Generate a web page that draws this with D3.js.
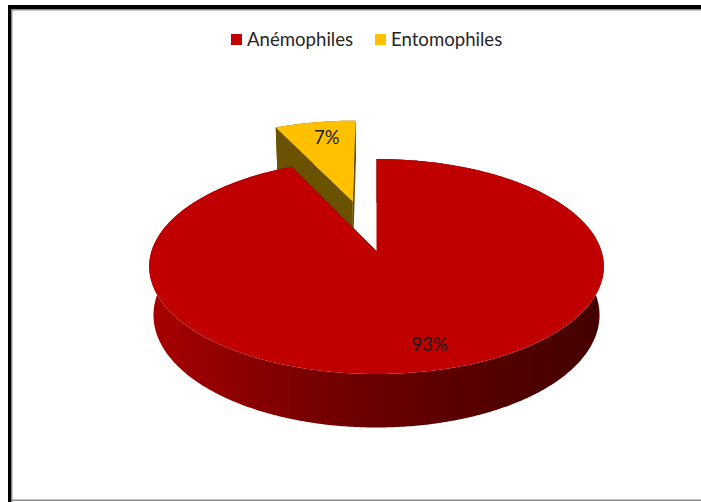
<!DOCTYPE html>
<html>
<head>
<meta charset="utf-8">
<script src="https://cdn.jsdelivr.net/npm/d3@7"></script>
<style>
  html, body { margin: 0; padding: 0; background: #fff; }
  svg { display: block; }
</style>
</head>
<body>
<svg id="chart" width="701" height="502"></svg>
<script>
// Pollination modes
const categories = ["Anémophiles", "Entomophiles"];
const values = [93, 7];
const labels = ["93%", "7%"];
const topColors = ["#C00000", "#FFC000"];
const explode = [0, 0.52];

const svg = d3.select("#chart");
const W = 701, H = 502;

// 3D perspective camera for a tilted disc of radius 1
const cam = { cx: 376.5, cy: 251, f: 1380, D: 6.135, sin: 0.468, cos: 0.884 };
const depthH = 0.247;

// x: right, y: toward the back, z: up
function proj(x, y, z) {
  const d = cam.D + y * cam.cos - z * cam.sin;
  const up = y * cam.sin + z * cam.cos;
  return [cam.cx + cam.f * x / d, cam.cy - cam.f * up / d];
}

const pie = d3.pie().sort(null).value(d => d)(values);
const line = d3.line();

function slicePoint(s, i, a, r, z) {
  const off = explode[i];
  const m = (s.startAngle + s.endAngle) / 2;
  const ox = off * Math.sin(m), oy = off * Math.cos(m);
  return proj(ox + r * Math.sin(a), oy + r * Math.cos(a), z);
}

function arcPts(s, i, a0, a1, z) {
  const n = Math.max(4, Math.ceil(Math.abs(a1 - a0) / 0.01));
  return d3.range(n + 1).map(k => slicePoint(s, i, a0 + (a1 - a0) * k / n, 1, z));
}

// frame
svg.append("rect").attr("x", 8).attr("y", 5).attr("width", W - 8).attr("height", 4).attr("fill", "#000");
svg.append("rect").attr("x", 8).attr("y", 5).attr("width", 3).attr("height", H - 5).attr("fill", "#000");
svg.append("rect").attr("x", 11).attr("y", 9).attr("width", W - 11).attr("height", 1.5).attr("fill", "#8c8c8c");
svg.append("rect").attr("x", 11).attr("y", 9).attr("width", 1.5).attr("height", H - 9).attr("fill", "#8c8c8c");
svg.append("rect").attr("x", 11).attr("y", 499.5).attr("width", W - 11).attr("height", 1.5).attr("fill", "#8c8c8c");

// side shading
const defs = svg.append("defs");
const sideGrad = [
  { id: "side0", stops: ["#a80000", "#7a0000", "#5a0000", "#440000"] },
  { id: "side1", stops: ["#8a6800", "#6b5200", "#4d3b00", "#3a2c00"] }
];
sideGrad.forEach(g => {
  const lg = defs.append("linearGradient").attr("id", g.id)
    .attr("gradientUnits", "userSpaceOnUse")
    .attr("x1", 150).attr("x2", 604).attr("y1", 0).attr("y2", 0);
  g.stops.forEach((c, k) => lg.append("stop").attr("offset", k / (g.stops.length - 1)).attr("stop-color", c));
});

const radialColors = ["#5a0000", "#6b5200"];
const gPie = svg.append("g");

// back slice first, front slice last
[1, 0].forEach(i => {
  const s = pie[i];
  const g = gPie.append("g");
  // outer wall
  const topArc = arcPts(s, i, s.startAngle, s.endAngle, 0);
  const botArc = arcPts(s, i, s.startAngle, s.endAngle, -depthH).reverse();
  g.append("path").attr("d", line(topArc.concat(botArc)) + "Z")
    .attr("fill", `url(#side${i})`);
  // cut faces
  [s.startAngle, s.endAngle].forEach(a => {
    const pts = [
      slicePoint(s, i, a, 0, 0), slicePoint(s, i, a, 1, 0),
      slicePoint(s, i, a, 1, -depthH), slicePoint(s, i, a, 0, -depthH)
    ];
    g.append("path").attr("d", line(pts) + "Z").attr("fill", radialColors[i]);
  });
  // top face
  const top = [slicePoint(s, i, 0, 0, 0)].concat(topArc);
  g.append("path").attr("d", line(top) + "Z").attr("fill", topColors[i]);
});

// value labels
pie.forEach((s, i) => {
  const m = (s.startAngle + s.endAngle) / 2;
  const p = slicePoint(s, i, m, 0.8, 0);
  svg.append("text")
    .attr("x", p[0] + (i === 0 ? 9 : 5)).attr("y", p[1])
    .attr("text-anchor", "middle").attr("dominant-baseline", "central")
    .attr("font-family", "Lato, 'Open Sans', sans-serif").attr("font-size", 18.5)
    .attr("fill", "#1a1a1a").text(labels[i]);
});

// legend
const legendX = [231, 375];
categories.forEach((c, i) => {
  svg.append("rect").attr("x", legendX[i]).attr("y", 34).attr("width", 11).attr("height", 11)
    .attr("fill", topColors[i]);
  svg.append("text").attr("x", legendX[i] + 16).attr("y", 45.5)
    .attr("font-family", "Lato, 'Open Sans', sans-serif").attr("font-size", 18.6)
    .attr("fill", "#262626").text(c);
});
</script>
</body>
</html>
